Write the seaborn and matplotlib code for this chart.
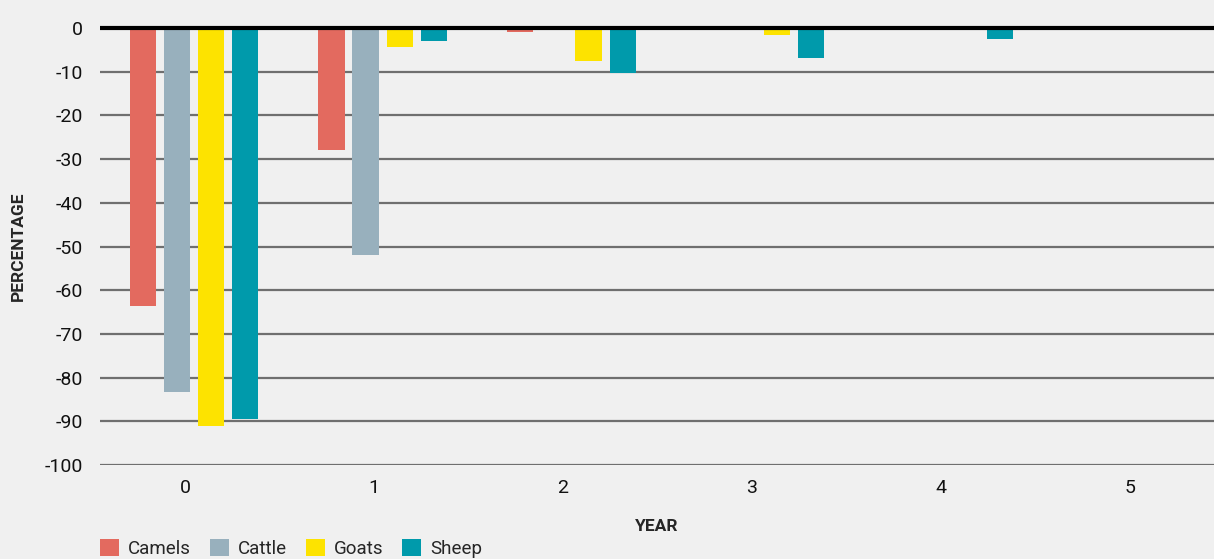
import numpy as np
import pandas as pd
import matplotlib
matplotlib.use("Agg")
import matplotlib.pyplot as plt
import seaborn as sns

years = ["0", "1", "2", "3", "4", "5"]
camels = [-63.6, -27.9, -0.9, 0.0, 0.0, 0.0]
cattle = [-83.3, -52.0, -0.4, 0.0, 0.0, 0.0]
goats = [-91.1, -4.3, -7.6, -1.6, 0.0, 0.0]
sheep = [-89.5, -3.0, -10.3, -6.9, -2.5, 0.0]

species = ["Camels", "Cattle", "Goats", "Sheep"]
colors = ["#e36a5f", "#98b0bd", "#fde300", "#009aab"]

df = pd.DataFrame({
    "year": years * 4,
    "species": np.repeat(species, len(years)),
    "value": camels + cattle + goats + sheep,
})

bg = "#f0f0f0"
sns.set_style("white")
plt.rcParams["font.family"] = ["Roboto", "DejaVu Sans"]

fig = plt.figure(figsize=(12.14, 5.59), dpi=100, facecolor=bg)
ax = fig.add_axes([100 / 1214, 94 / 559, 1114 / 1214, 437 / 559])
ax.set_facecolor(bg)

sns.barplot(data=df, x="year", y="value", hue="species", palette=colors,
            saturation=1, width=0.72, gap=0.235, linewidth=0, ax=ax, zorder=3)

ax.set_ylim(-100, 0)
ax.set_yticks(range(-100, 1, 10))
ax.set_yticklabels([str(v) for v in range(-100, 1, 10)], fontsize=14)
off = 0.045
ax.set_xticks([i - off for i in range(len(years))])
ax.set_xticklabels(years, fontsize=14)
ax.set_xlim(-0.495, 5.4)
ax.tick_params(axis="both", length=0, colors="#111111")
ax.tick_params(axis="y", pad=12)
ax.tick_params(axis="x", pad=10)

for v in range(-100, 0, 10):
    ax.axhline(v, color="#6f6f6f", lw=1.6, zorder=1)
ax.axhline(0, color="black", lw=3, zorder=5, clip_on=False, solid_capstyle="butt")

for s in ax.spines.values():
    s.set_visible(False)

ax.set_xlabel("YEAR", fontsize=12.5, fontweight="bold", labelpad=16)
ax.set_ylabel("PERCENTAGE", fontsize=12.5, fontweight="bold", labelpad=14)

handles, labels = ax.get_legend_handles_labels()
ax.legend(handles, labels, loc="lower left", bbox_to_anchor=(100 / 1214, 0.002),
          bbox_transform=fig.transFigure, ncol=4, frameon=False, fontsize=13.5,
          handlelength=1.0, handleheight=1.0, handletextpad=0.5,
          columnspacing=1.0, borderaxespad=0, borderpad=0)

fig.savefig("out.png", dpi=100, facecolor=bg)
